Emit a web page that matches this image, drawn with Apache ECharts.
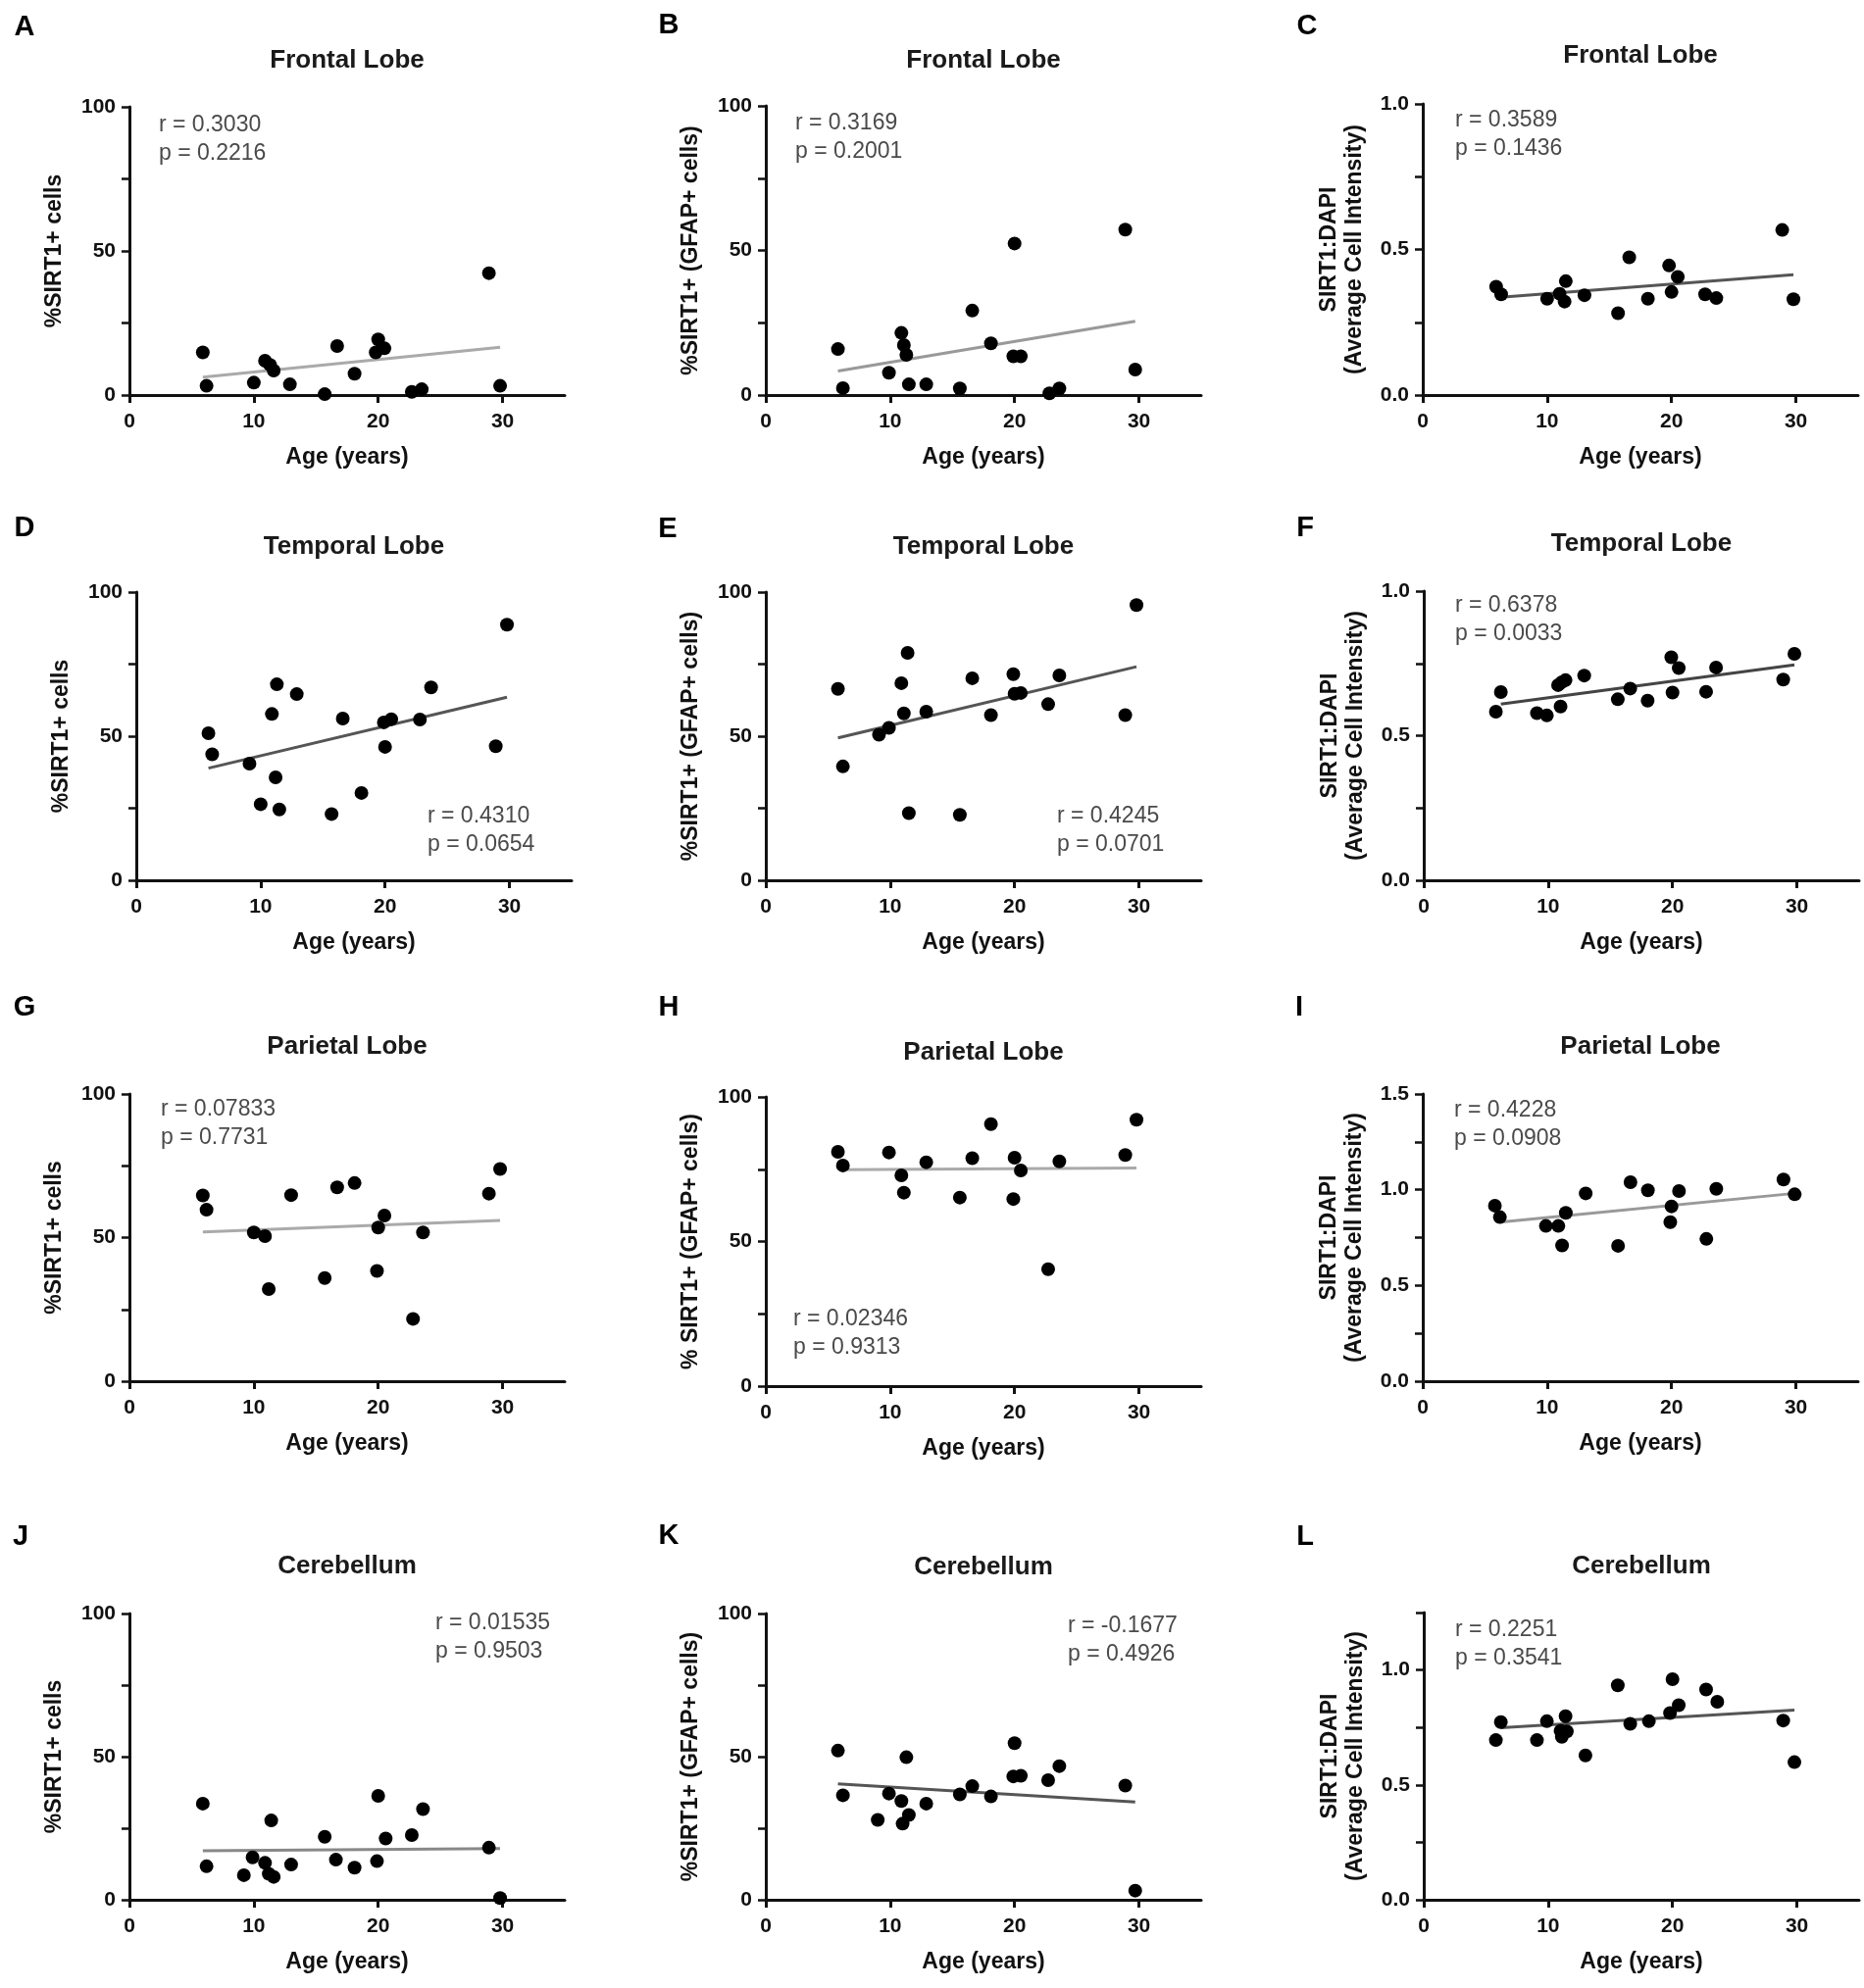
<!DOCTYPE html>
<html>
<head>
<meta charset="utf-8">
<script src="https://cdn.jsdelivr.net/npm/echarts@6/dist/echarts.min.js"></script>
<style>
html,body{margin:0;padding:0;background:#fff;}
#chart{width:1901px;height:2028px;}
</style>
</head>
<body>
<div id="chart"></div>
<script>
// ---------------- DATA ----------------
const xTicks = [0, 10, 20, 30];
const yTicksPct = [0, 25, 50, 75, 100];
const yLabelsPct = [0, 50, 100];
const yTicksRatio = [0, 0.25, 0.5, 0.75, 1.0];
const yTicksRatioI = [0, 0.25, 0.5, 0.75, 1.0, 1.25, 1.5];
const yTicksRatioL = [0, 0.25, 0.5, 0.75, 1.0, 1.25];
const yLabelsRatio = [0, 0.5, 1.0];
const yLabelsRatioI = [0, 0.5, 1.0, 1.5];

const regions = ['Frontal Lobe', 'Temporal Lobe', 'Parietal Lobe', 'Cerebellum'];
const letters = ['A','B','C','D','E','F','G','H','I','J','K','L'];

// A: Frontal, %SIRT1+ cells
const ageA = [5.9, 6.2, 10.0, 10.9, 11.3, 11.6, 12.9, 15.7, 16.7, 18.1, 20.0, 19.8, 20.5, 22.7, 23.5, 28.9, 29.8];
const valA = [14.8, 3.2, 4.3, 11.9, 10.5, 8.5, 3.7, 0.3, 17.0, 7.4, 19.3, 14.8, 16.2, 1.1, 2.0, 42.3, 3.2];
// B: Frontal, %SIRT1+ (GFAP+ cells)
const ageB = [5.8, 6.2, 9.9, 10.9, 11.1, 11.3, 11.5, 12.9, 15.6, 16.6, 18.1, 19.9, 20.5, 20.0, 22.8, 23.6, 28.9, 29.7];
const valB = [15.9, 2.4, 7.7, 21.5, 17.3, 13.9, 3.7, 3.7, 2.3, 29.2, 17.9, 13.4, 13.4, 52.4, 0.6, 2.3, 57.2, 8.8];
// C: Frontal, SIRT1:DAPI
const ageC = [5.9, 6.3, 10.0, 11.0, 11.5, 11.4, 13.0, 15.7, 16.6, 18.1, 19.8, 20.5, 20.0, 22.7, 23.6, 28.9, 29.8];
const valC = [0.372, 0.346, 0.331, 0.348, 0.391, 0.321, 0.343, 0.281, 0.473, 0.331, 0.445, 0.406, 0.354, 0.346, 0.333, 0.567, 0.329];
// D: Temporal, %SIRT1+ cells
const ageD = [5.8, 6.1, 9.1, 10.0, 10.9, 11.3, 11.2, 11.5, 12.9, 15.7, 16.6, 18.1, 20.0, 19.9, 20.5, 22.8, 23.7, 28.9, 29.8];
const valD = [51.0, 43.7, 40.5, 26.4, 57.7, 68.0, 35.7, 24.6, 64.6, 23.0, 56.1, 30.3, 46.3, 54.8, 55.9, 55.8, 66.9, 46.5, 88.7];
// E: Temporal, %SIRT1+ (GFAP+ cells)
const ageE = [5.8, 6.2, 9.1, 9.9, 10.9, 11.1, 11.4, 11.5, 12.9, 15.6, 16.6, 18.1, 19.9, 20.0, 20.5, 22.7, 23.6, 28.9, 29.8];
const valE = [66.4, 39.5, 50.5, 52.9, 68.4, 57.9, 78.9, 23.3, 58.5, 22.7, 70.1, 57.3, 71.5, 64.7, 65.0, 61.1, 71.1, 57.3, 95.5];
// F: Temporal, SIRT1:DAPI
const ageF = [5.8, 6.2, 9.1, 9.9, 10.8, 11.1, 11.4, 11.0, 12.9, 15.6, 16.6, 18.0, 19.9, 20.5, 20.0, 22.7, 23.5, 28.9, 29.8];
const valF = [0.583, 0.651, 0.578, 0.570, 0.675, 0.685, 0.692, 0.601, 0.708, 0.626, 0.663, 0.621, 0.771, 0.734, 0.649, 0.652, 0.736, 0.694, 0.783];
// G: Parietal, %SIRT1+ cells
const ageG = [5.9, 6.2, 10.0, 10.9, 11.2, 13.0, 15.7, 16.7, 18.1, 19.9, 20.0, 20.5, 22.8, 23.6, 28.9, 29.8];
const valG = [64.7, 59.7, 51.8, 50.5, 32.1, 64.8, 35.9, 67.5, 69.0, 38.4, 53.5, 57.7, 21.7, 51.8, 65.3, 73.9];
// H: Parietal, % SIRT1+ (GFAP+ cells)
const ageH = [5.8, 6.2, 9.9, 10.9, 11.1, 12.9, 15.6, 16.6, 18.1, 20.0, 19.9, 20.5, 22.7, 23.6, 28.9, 29.8];
const valH = [81.0, 76.3, 80.8, 72.9, 66.9, 77.4, 65.2, 78.8, 90.6, 79.0, 64.7, 74.6, 40.4, 77.7, 79.9, 92.1];
// I: Parietal, SIRT1:DAPI
const ageI = [5.8, 6.2, 9.9, 10.9, 11.2, 11.5, 13.1, 15.7, 16.7, 18.1, 20.0, 19.9, 20.6, 22.8, 23.6, 29.0, 29.9];
const valI = [0.917, 0.857, 0.811, 0.811, 0.709, 0.879, 0.981, 0.707, 1.039, 0.997, 0.913, 0.831, 0.993, 0.743, 1.005, 1.053, 0.976];
// J: Cerebellum, %SIRT1+ cells
const ageJ = [5.9, 6.2, 9.2, 9.9, 10.9, 11.4, 11.2, 11.6, 13.0, 15.7, 16.6, 18.1, 19.9, 20.0, 20.6, 22.7, 23.6, 28.9, 29.8];
const valJ = [33.6, 11.7, 8.6, 14.8, 12.9, 27.7, 9.1, 8.0, 12.3, 22.0, 14.0, 11.2, 13.5, 36.3, 21.4, 22.6, 31.7, 18.2, 0.6];
// K: Cerebellum, %SIRT1+ (GFAP+ cells)
const ageK = [5.8, 6.2, 9.0, 9.9, 10.9, 11.3, 11.0, 11.5, 12.9, 15.6, 16.6, 18.1, 20.0, 19.9, 20.5, 22.7, 23.6, 28.9, 29.7];
const valK = [52.1, 36.5, 27.9, 37.1, 34.5, 49.8, 26.6, 29.6, 33.6, 36.8, 39.7, 36.1, 54.7, 43.1, 43.3, 41.8, 46.7, 39.9, 3.2];
// L: Cerebellum, SIRT1:DAPI
const ageL = [5.8, 6.2, 9.1, 9.9, 11.0, 11.4, 11.1, 11.5, 13.0, 15.6, 16.6, 18.1, 19.8, 20.0, 20.5, 22.7, 23.6, 28.9, 29.8];
const valL = [0.695, 0.773, 0.695, 0.777, 0.735, 0.799, 0.709, 0.733, 0.628, 0.933, 0.766, 0.777, 0.813, 0.960, 0.847, 0.915, 0.862, 0.780, 0.599];

// regression lines as drawn in the picture: [x0, y0, x1, y1]
const fitA = [5.9, 6.2, 29.8, 16.6];
const fitB = [5.8, 8.3, 29.7, 25.5];
const fitC = [6.0, 0.335, 29.8, 0.413];
const fitD = [5.8, 38.9, 29.8, 63.5];
const fitE = [5.8, 49.4, 29.8, 74.1];
const fitF = [6.2, 0.609, 29.8, 0.745];
const fitG = [5.9, 52.0, 29.8, 56.0];
const fitH = [5.9, 74.8, 29.8, 75.4];
const fitI = [6.2, 0.831, 29.9, 0.981];
const fitJ = [5.9, 17.1, 29.8, 17.9];
const fitK = [5.8, 40.5, 29.7, 34.2];
const fitL = [6.2, 0.749, 29.8, 0.826];

const statR = ['r = 0.3030','r = 0.3169','r = 0.3589','r = 0.4310','r = 0.4245','r = 0.6378','r = 0.07833','r = 0.02346','r = 0.4228','r = 0.01535','r = -0.1677','r = 0.2251'];
const statP = ['p = 0.2216','p = 0.2001','p = 0.1436','p = 0.0654','p = 0.0701','p = 0.0033','p = 0.7731','p = 0.9313','p = 0.0908','p = 0.9503','p = 0.4926','p = 0.3541'];

const yNamePct = '%SIRT1+ cells';
const yNameGfap = '%SIRT1+ (GFAP+ cells)';
const yNameGfapH = '% SIRT1+ (GFAP+ cells)';
const yNameRatio = 'SIRT1:DAPI\n(Average Cell Intensity)';

// ---------------- LAYOUT ----------------
const FONT = '"Liberation Sans", Arial, Helvetica, sans-serif';
const ages = [ageA, ageB, ageC, ageD, ageE, ageF, ageG, ageH, ageI, ageJ, ageK, ageL];
const vals = [valA, valB, valC, valD, valE, valF, valG, valH, valI, valJ, valK, valL];
const fits = [fitA, fitB, fitC, fitD, fitE, fitF, fitG, fitH, fitI, fitJ, fitK, fitL];

const panels = [
  {left:132, top:109, h:294, ty:62,   yMax:100, yt:yTicksPct, yl:yLabelsPct, name:yNamePct,  fc:'#aaaaaa', ax:162,  ay:128,  lx:25,   ly:28},
  {left:781, top:108, h:295, ty:62,   yMax:100, yt:yTicksPct, yl:yLabelsPct, name:yNameGfap, fc:'#999999', ax:811,  ay:126,  lx:682,  ly:26},
  {left:1451,top:106, h:297, ty:57,   yMax:1.0, yt:yTicksRatio, yl:yLabelsRatio, name:yNameRatio, fc:'#555555', ax:1484, ay:123, lx:1333, ly:27},
  {left:139, top:604, h:294, ty:558,  yMax:100, yt:yTicksPct, yl:yLabelsPct, name:yNamePct,  fc:'#555555', ax:436,  ay:833,  lx:25,   ly:539},
  {left:781, top:604, h:294, ty:558,  yMax:100, yt:yTicksPct, yl:yLabelsPct, name:yNameGfap, fc:'#555555', ax:1078, ay:833,  lx:681,  ly:540},
  {left:1452,top:603, h:295, ty:555,  yMax:1.0, yt:yTicksRatio, yl:yLabelsRatio, name:yNameRatio, fc:'#444444', ax:1484, ay:618, lx:1331, ly:539},
  {left:132, top:1116,h:293, ty:1068, yMax:100, yt:yTicksPct, yl:yLabelsPct, name:yNamePct,  fc:'#aaaaaa', ax:164,  ay:1132, lx:25,   ly:1028},
  {left:781, top:1119,h:295, ty:1074, yMax:100, yt:yTicksPct, yl:yLabelsPct, name:yNameGfapH,fc:'#aaaaaa', ax:809,  ay:1346, lx:682,  ly:1028},
  {left:1451,top:1116,h:293, ty:1068, yMax:1.5, yt:yTicksRatioI, yl:yLabelsRatioI, name:yNameRatio, fc:'#999999', ax:1483, ay:1133, lx:1325, ly:1028},
  {left:132, top:1646,h:292, ty:1598, yMax:100, yt:yTicksPct, yl:yLabelsPct, name:yNamePct,  fc:'#888888', ax:444,  ay:1656, lx:21,   ly:1568},
  {left:781, top:1646,h:292, ty:1599, yMax:100, yt:yTicksPct, yl:yLabelsPct, name:yNameGfap, fc:'#555555', ax:1089, ay:1659, lx:682,  ly:1567},
  {left:1452,top:1645,h:293, ty:1598, yMax:1.25,yt:yTicksRatioL, yl:yLabelsRatio, name:yNameRatio, fc:'#555555', ax:1484, ay:1663, lx:1331, ly:1568}
];
const W = 444;
const AXC = '#111111';

const grid = [], xAxis = [], yAxis = [], series = [], graphic = [];

panels.forEach((p, i) => {
  const ratio = p.yMax <= 2;
  const twoLine = p.name.indexOf('\n') >= 0;
  grid.push({left: p.left, top: p.top, width: W, height: p.h, containLabel: false});
  xAxis.push({
    gridIndex: i, type: 'value', min: 0, max: 35,
    name: 'Age (years)', nameLocation: 'middle', nameGap: 52,
    nameTextStyle: {fontFamily: FONT, fontWeight: 'bold', fontSize: 23, color: AXC},
    axisLine: {show: true, onZero: false, lineStyle: {color: AXC, width: 3}},
    axisTick: {show: true, inside: false, length: 8, lineStyle: {color: AXC, width: 3}, customValues: xTicks},
    axisLabel: {show: true, margin: 17, fontFamily: FONT, fontWeight: 'bold', fontSize: 21, color: AXC, customValues: xTicks},
    splitLine: {show: false}
  });
  yAxis.push({
    gridIndex: i, type: 'value', min: 0, max: p.yMax,
    name: p.name, nameLocation: 'middle', nameGap: twoLine ? 56 : 63, nameRotate: 90,
    nameTextStyle: {fontFamily: FONT, fontWeight: 'bold', fontSize: 23, color: AXC, lineHeight: 26, align: 'center'},
    axisLine: {show: true, onZero: false, lineStyle: {color: AXC, width: 3}},
    axisTick: {show: true, inside: false, length: 8, lineStyle: {color: AXC, width: 2.5}, customValues: p.yt},
    axisLabel: {show: true, margin: 14, fontFamily: FONT, fontWeight: 'bold', fontSize: 21, color: AXC,
      customValues: p.yl, formatter: v => ratio ? Number(v).toFixed(1) : String(Math.round(v))},
    splitLine: {show: false}
  });
  const f = fits[i];
  series.push({
    type: 'line', xAxisIndex: i, yAxisIndex: i, data: [[f[0], f[1]], [f[2], f[3]]],
    showSymbol: false, symbol: 'none', lineStyle: {color: p.fc, width: 3}, z: 2, silent: true, animation: false
  });
  series.push({
    type: 'scatter', xAxisIndex: i, yAxisIndex: i,
    data: ages[i].map((a, k) => [a, vals[i][k]]),
    symbol: 'circle', symbolSize: 14, itemStyle: {color: '#000', opacity: 1}, z: 3, animation: false
  });
  // panel title
  graphic.push({type: 'text', x: p.left + W / 2, y: p.ty, silent: true,
    style: {text: regions[Math.floor(i / 3)], font: 'bold 26px ' + FONT, fill: '#1a1a1a',
      align: 'center', verticalAlign: 'middle', textAlign: 'center', textVerticalAlign: 'middle'}});
  // panel letter
  graphic.push({type: 'text', x: p.lx, y: p.ly, silent: true,
    style: {text: letters[i], font: 'bold 29px ' + FONT, fill: '#000',
      align: 'center', verticalAlign: 'middle', textAlign: 'center', textVerticalAlign: 'middle'}});
  // r & p annotation
  graphic.push({type: 'text', x: p.ax, y: p.ay, silent: true,
    style: {text: statR[i], font: '23px ' + FONT, fill: '#4a4a4a',
      align: 'left', verticalAlign: 'middle', textAlign: 'left', textVerticalAlign: 'middle'}});
  graphic.push({type: 'text', x: p.ax, y: p.ay + 29, silent: true,
    style: {text: statP[i], font: '23px ' + FONT, fill: '#4a4a4a',
      align: 'left', verticalAlign: 'middle', textAlign: 'left', textVerticalAlign: 'middle'}});
});

const chart = echarts.init(document.getElementById('chart'), null, {renderer: 'canvas'});
chart.setOption({
  backgroundColor: '#ffffff',
  animation: false,
  grid, xAxis, yAxis, series, graphic
});
</script>
</body>
</html>
